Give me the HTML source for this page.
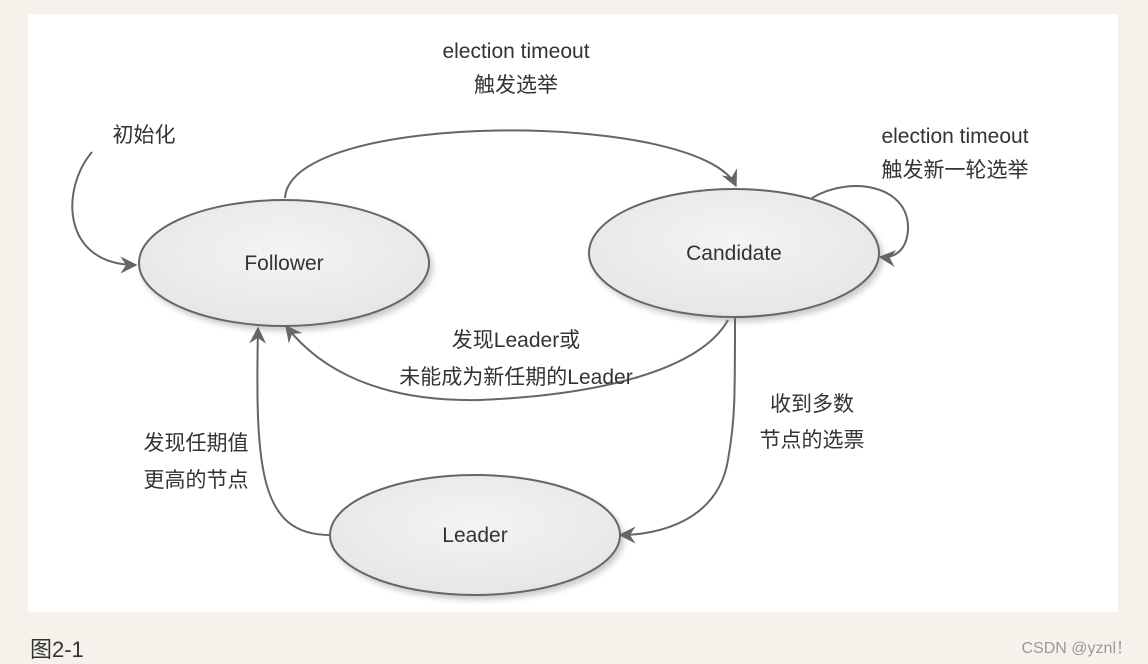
<!DOCTYPE html>
<html><head><meta charset="utf-8"><style>
body{margin:0;width:1148px;height:664px;background:#f5f2ec;position:relative;overflow:hidden;font-family:"Liberation Sans","Noto Sans CJK SC",sans-serif}
#panel{position:absolute;left:28px;top:14px;width:1090px;height:598px;background:#fff}
svg{position:absolute;left:0;top:0}
.cap{position:absolute;left:30px;top:632px;font-size:22px;color:#333}
.wm{position:absolute;right:16px;top:634px;font-size:16px;color:#999}
</style></head><body>
<div id="panel"></div>
<svg width="1148" height="664" viewBox="0 0 1148 664">
<defs>
<radialGradient id="g" cx="50%" cy="40%" r="60%"><stop offset="0" stop-color="#f4f4f4"/><stop offset="1" stop-color="#e6e6e6"/></radialGradient>
<marker id="a" viewBox="0 0 12 12" refX="11" refY="6" markerWidth="17" markerHeight="17" markerUnits="userSpaceOnUse" orient="auto"><path d="M0,0 L12,6 L0,12 L4,6 Z" fill="#666"/></marker>
<filter id="s" x="-10%" y="-10%" width="130%" height="130%"><feDropShadow dx="3" dy="4" stdDeviation="3" flood-color="#000" flood-opacity="0.2"/></filter>
</defs>
<g fill="url(#g)" stroke="#666" stroke-width="2" filter="url(#s)">
<ellipse cx="284" cy="263" rx="145" ry="63"/>
<ellipse cx="734" cy="253" rx="145" ry="64"/>
<ellipse cx="475" cy="535" rx="145" ry="60"/>
</g>
<g fill="none" stroke="#666" stroke-width="2" marker-end="url(#a)">
<path d="M92,152 C60,190 62,265 136,265"/>
<path d="M285,198 C290,110 700,110 736,186"/>
<path d="M812,198 C850,175 910,185 908,230 C906,255 890,258 880,257"/>
<path d="M735,318 C735,400 735,420 728,460 C718,520 660,535 620,535"/>
<path d="M728,320 C700,370 600,395 480,400 C380,402 320,370 286,326"/>
<path d="M330,535 C260,535 255,470 258,328"/>
</g>
<g font-size="21" fill="#333" text-anchor="middle">
<text x="284" y="270">Follower</text>
<text x="734" y="260">Candidate</text>
<text x="475" y="542">Leader</text>
<text x="516" y="58">election timeout</text>
<text x="516" y="92">触发选举</text>
<text x="144" y="142">初始化</text>
<text x="955" y="143">election timeout</text>
<text x="955" y="177">触发新一轮选举</text>
<text x="516" y="347">发现Leader或</text>
<text x="516" y="384">未能成为新任期的Leader</text>
<text x="812" y="411">收到多数</text>
<text x="812" y="447">节点的选票</text>
<text x="196" y="450">发现任期值</text>
<text x="196" y="487">更高的节点</text>
</g>
</svg>
<div class="cap">图2-1</div>
<div class="wm">CSDN @yznl！</div>
</body></html>
